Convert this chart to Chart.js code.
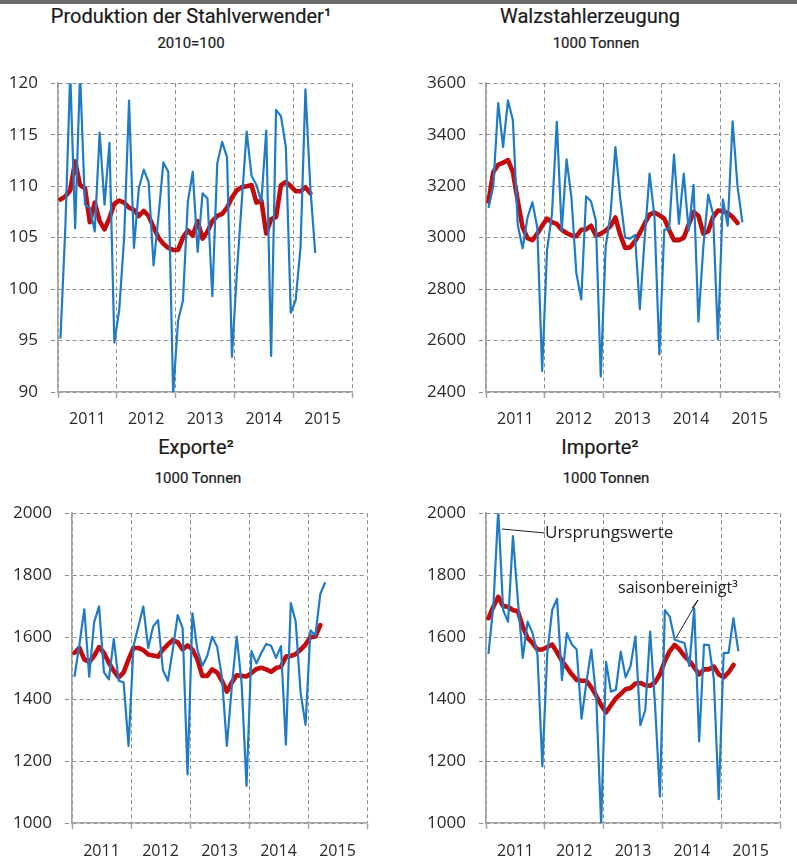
<!DOCTYPE html>
<html><head><meta charset="utf-8">
<script src="https://cdn.jsdelivr.net/npm/chart.js@4.4.1/dist/chart.umd.min.js"></script>
<style>
html,body{margin:0;padding:0;background:#fff;}
body{width:797px;height:861px;position:relative;overflow:hidden;font-family:"Open Sans","Noto Sans",sans-serif;}
.bar{position:absolute;left:0;top:0;width:797px;height:4px;background:#6b6b6b;}
.t{position:absolute;transform:translateX(-50%);white-space:nowrap;color:#1a1a1a;-webkit-text-stroke:0.2px #1a1a1a;}
.title{font-family:Roboto,"Open Sans",sans-serif;font-weight:400;font-size:20px;line-height:24px;}
.sub{font-family:Roboto,"Open Sans",sans-serif;font-weight:400;font-size:15px;line-height:18px;}
.box{position:absolute;}
.box canvas{display:block;}
.ann{position:absolute;font-family:"Open Sans",sans-serif;line-height:20px;color:#222;white-space:nowrap;}
</style></head>
<body>
<div class="bar"></div>
<div class="t title" style="left:191px;top:4px">Produktion der Stahlverwender¹</div>
<div class="t sub" style="left:191px;top:34px">2010=100</div>
<div class="t title" style="left:590px;top:4px">Walzstahlerzeugung</div>
<div class="t sub" style="left:596px;top:34px">1000 Tonnen</div>
<div class="t title" style="left:196px;top:435px">Exporte²</div>
<div class="t sub" style="left:198px;top:469px">1000 Tonnen</div>
<div class="t title" style="left:600px;top:435px">Importe²</div>
<div class="t sub" style="left:606px;top:469px">1000 Tonnen</div>

<div class="box" style="left:0;top:60px;width:400px;height:380px"><canvas id="c1" width="400" height="380"></canvas></div>
<div class="box" style="left:400px;top:60px;width:397px;height:380px"><canvas id="c2" width="397" height="380"></canvas></div>
<div class="box" style="left:0;top:490px;width:400px;height:371px"><canvas id="c3" width="400" height="371"></canvas></div>
<div class="box" style="left:400px;top:490px;width:397px;height:371px"><canvas id="c4" width="397" height="371"></canvas></div>

<div class="ann" style="left:545px;top:522px;font-size:17px">Ursprungswerte</div>
<div class="ann" style="left:618px;top:577px;font-size:16px">saisonbereinigt³</div>

<script>
// ---- data (monthly, Jan 2011 onwards) ----
const years = ['2011', '2012', '2013', '2014', '2015'];

const prodOriginal = [95.2, 106, 121, 105.9, 121, 108.2, 107.9, 105.6, 115.2, 108.2, 114.2, 94.8,
  98, 105, 118.3, 104.0, 109.8, 111.6, 110.4, 102.3, 107, 112.3, 111.4, 89.8,
  96.9, 98.9, 108.5, 111.4, 103.6, 109.3, 108.8, 99.3, 112.2, 114.3, 112.8, 93.4,
  101.6, 108.5, 115.3, 111, 110.1, 108.5, 115.4, 93.5, 117.4, 116.8, 113.8, 97.7,
  98.9, 104.1, 119.4, 109.8, 103.5];
const prodSA = [108.7, 109.0, 109.6, 112.4, 110.1, 109.8, 106.5, 108.4, 106.6, 105.8, 106.9, 108.3,
  108.6, 108.4, 107.9, 107.7, 107.1, 107.6, 107.1, 106.0, 105.0, 104.4, 104.0, 103.8,
  103.8, 105.0, 105.7, 105.2, 106.6, 104.9, 105.6, 106.6, 107.1, 107.3, 107.9, 108.9,
  109.6, 109.9, 110.0, 110.1, 108.4, 108.6, 105.4, 106.8, 107.0, 110.1, 110.4, 110.0,
  109.5, 109.5, 109.9, 109.3];

const walzOriginal = [3115, 3200, 3523, 3352, 3533, 3457, 3050, 2958, 3078, 3137, 3040, 2482,
  2951, 3090, 3450, 3026, 3304, 3154, 2862, 2760, 3160, 3141, 3065, 2460,
  2964, 3090, 3352, 3150, 3000, 2996, 3010, 2722, 3000, 3249, 3080, 2546,
  3030, 3034, 3323, 3053, 3249, 3027, 3205, 2673, 2964, 3167, 3091, 2605,
  3148, 3046, 3452, 3200, 3059];
const walzSA = [3140, 3255, 3283, 3291, 3301, 3255, 3143, 3040, 2998, 2990, 3015, 3046,
  3074, 3060, 3053, 3030, 3018, 3008, 3005, 3030, 3032, 3046, 3008, 3015,
  3027, 3045, 3078, 3010, 2960, 2962, 2986, 3018, 3055, 3089, 3098, 3087,
  3074, 3030, 2990, 2990, 3000, 3050, 3100, 3085, 3015, 3025, 3080, 3105,
  3103, 3095, 3080, 3057];

const expOriginal = [1472, 1575, 1690, 1472, 1648, 1699, 1486, 1464, 1594, 1459, 1454, 1249,
  1571, 1634, 1699, 1565, 1634, 1655, 1493, 1459, 1560, 1671, 1629, 1157,
  1677, 1560, 1507, 1539, 1601, 1570, 1470, 1249, 1440, 1602, 1450, 1120,
  1555, 1515, 1549, 1578, 1572, 1533, 1571, 1253, 1710, 1650, 1420, 1317,
  1622, 1605, 1739, 1777];
const expSA = [1549, 1565, 1528, 1520, 1539, 1568, 1549, 1517, 1491, 1470, 1486, 1528,
  1565, 1565, 1558, 1544, 1541, 1537, 1560, 1576, 1590, 1583, 1560, 1573,
  1560, 1528, 1475, 1475, 1496, 1486, 1459, 1424, 1454, 1477, 1475, 1473,
  1484, 1497, 1501, 1496, 1488, 1500, 1504, 1537, 1539, 1545, 1560, 1576,
  1600, 1602, 1639];

const impOriginal = [1546, 1700, 2010, 1687, 1650, 1926, 1719, 1533, 1650, 1613, 1544, 1183,
  1546, 1687, 1724, 1461, 1613, 1577, 1560, 1337, 1455, 1560, 1405, 995,
  1520, 1424, 1430, 1553, 1470, 1507, 1602, 1316, 1364, 1618, 1380, 1085,
  1687, 1666, 1592, 1586, 1581, 1507, 1692, 1263, 1576, 1574, 1464, 1077,
  1549, 1549, 1661, 1555];
const impSA = [1661, 1698, 1730, 1700, 1698, 1687, 1684, 1634, 1597, 1581, 1560, 1560,
  1568, 1576, 1551, 1523, 1502, 1480, 1462, 1459, 1459, 1438, 1411, 1380,
  1357, 1380, 1402, 1417, 1432, 1436, 1450, 1452, 1445, 1443, 1454, 1480,
  1523, 1555, 1575, 1560, 1539, 1523, 1502, 1480, 1496, 1496, 1505, 1480,
  1470, 1486, 1510];

// ---- styling ----
const BLUE = '#1f7bc6';
const RED = '#c40b0b';
const GRID = '#8e8e8e';
const AXIS = '#a3a3a3';
const TICKFONT = {family: '"Open Sans","Noto Sans",sans-serif', size: 16};

const xTicks = [];
years.forEach((y, k) => { xTicks.push(-0.5 + 12 * k); xTicks.push(5.5 + 12 * k); });
xTicks.push(-0.5 + 12 * years.length);
const isBoundary = v => Math.abs(((v + 0.5) % 12)) < 0.01;

function toXY(arr) { return arr.map((v, i) => ({x: i, y: v})); }

function makeChart(id, o) {
  return new Chart(document.getElementById(id), {
    type: 'line',
    data: {
      datasets: [
        {data: toXY(o.orig), borderColor: BLUE, borderWidth: 2.2, pointRadius: 0, tension: 0,
         borderJoinStyle: 'round', order: 0},
        {data: toXY(o.sa), borderColor: RED, borderWidth: 4.6, pointRadius: 0, tension: 0,
         borderJoinStyle: 'round', borderCapStyle: 'round', order: 1}
      ]
    },
    options: {
      responsive: false, animation: false, devicePixelRatio: 1,
      layout: {padding: o.pad},
      plugins: {legend: {display: false}, tooltip: {enabled: false}},
      scales: {
        x: {
          type: 'linear', min: -0.5, max: 12 * years.length - 0.5,
          afterBuildTicks: s => { s.ticks = xTicks.map(v => ({value: v})); },
          afterFit: s => { s.height = o.xH; },
          ticks: {
            autoSkip: false, maxRotation: 0, minRotation: 0, padding: o.xPad, color: '#2a2a2a', font: TICKFONT,
            callback: v => isBoundary(v) ? '' : years[Math.round((v - 5.5) / 12)]
          },
          grid: {
            color: c => (c.tick && !isBoundary(c.tick.value)) ? 'rgba(0,0,0,0)' : GRID,
            tickColor: c => (c.tick && !isBoundary(c.tick.value)) ? 'rgba(0,0,0,0)' : AXIS,
            tickLength: 6, lineWidth: 1, tickWidth: 1.5
          },
          border: {display: true, color: AXIS, width: 1.6, dash: [4, 3]}
        },
        y: {
          min: o.yMin, max: o.yMax,
          afterFit: s => { s.width = o.yW; },
          ticks: {stepSize: o.yStep, padding: 13, color: '#2a2a2a', font: {family: TICKFONT.family, size: 17},
                  callback: v => String(v)},
          grid: {color: GRID, tickColor: GRID, tickLength: 7, lineWidth: 1, tickBorderDash: [4, 3]},
          border: {display: true, color: AXIS, width: 1.6, dash: [4, 3]}
        }
      }
    },
    plugins: o.plugins || []
  });
}

const leaderPlugin = {
  id: 'leaders',
  afterDraw(chart) {
    const ctx = chart.ctx;
    ctx.save();
    ctx.strokeStyle = '#222';
    ctx.lineWidth = 1;
    ctx.beginPath();
    ctx.moveTo(102, 39); ctx.lineTo(145, 43);
    ctx.moveTo(298, 110); ctx.lineTo(276, 148);
    ctx.moveTo(298, 110); ctx.lineTo(292, 118);
    ctx.stroke();
    ctx.restore();
  }
};

makeChart('c1', {orig: prodOriginal, sa: prodSA, yMin: 90, yMax: 120, yStep: 5, yW: 58,
  pad: {left: 0, right: 48, top: 16, bottom: 8}, xH: 40, xPad: 12});
makeChart('c2', {orig: walzOriginal, sa: walzSA, yMin: 2400, yMax: 3600, yStep: 200, yW: 86,
  pad: {left: 0, right: 18, top: 16, bottom: 8}, xH: 40, xPad: 12});
makeChart('c3', {orig: expOriginal, sa: expSA, yMin: 1000, yMax: 2000, yStep: 200, yW: 72,
  pad: {left: 0, right: 33, top: 18, bottom: 4}, xH: 34, xPad: 13});
makeChart('c4', {orig: impOriginal, sa: impSA, yMin: 1000, yMax: 2000, yStep: 200, yW: 86,
  pad: {left: 0, right: 17, top: 18, bottom: 4}, xH: 34, xPad: 13, plugins: [leaderPlugin]});
</script>
</body></html>
